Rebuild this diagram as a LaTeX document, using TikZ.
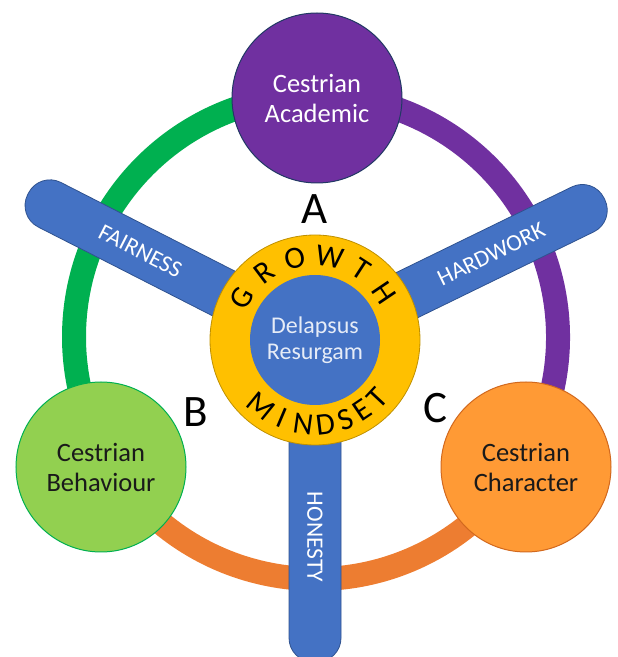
\documentclass[tikz,border=0pt]{standalone}
\usepackage{fontspec}
\setmainfont{Carlito}
\definecolor{ringgreen}{HTML}{00B050}
\definecolor{ringpurple}{HTML}{7030A0}
\definecolor{ringorange}{HTML}{ED7D31}
\definecolor{spokeblue}{HTML}{4472C4}
\definecolor{spokeedge}{HTML}{2F528F}
\definecolor{gold}{HTML}{FFC000}
\definecolor{goldedge}{HTML}{BF9000}
\definecolor{lightgreen}{HTML}{92D050}
\definecolor{lightorange}{HTML}{FF9A35}
\definecolor{orangeedge}{HTML}{D2691E}
\definecolor{paletext}{HTML}{E6ECF7}
\definecolor{darktext}{HTML}{1A1A1A}
\begin{document}
\begin{tikzpicture}[x=1pt,y=1pt,
  ringarc/.style={line width=24pt},
  spokebox/.style={fill=spokeblue, draw=spokeedge, line width=0.8pt, rounded corners=24pt},
  spokelabel/.style={text=white, font=\fontsize{23.5}{23.5}\selectfont, inner sep=0pt},
  valuecircle/.style={circle, minimum size=170pt, inner sep=0pt, line width=1pt, align=center, font=\fontsize{26.5}{30}\selectfont},
  letterlabel/.style={font=\fontsize{45}{45}\selectfont, inner sep=0pt},
  ringletter/.style={font=\fontsize{31}{31}\selectfont, inner sep=0pt}
]
\useasboundingbox (0,0) rectangle (618,657);
\coordinate (R) at (316,320);
\coordinate (O) at (315,317);
% outer ring
\draw[ringarc, ringgreen] (R) ++(90:242) arc[start angle=90, end angle=210, radius=242];
\draw[ringarc, ringpurple] (R) ++(-30:242) arc[start angle=-30, end angle=90, radius=242];
\draw[ringarc, ringorange] (R) ++(210:242) arc[start angle=210, end angle=330, radius=242];
% spokes
\begin{scope}[shift={(O)}, rotate=153]
  \draw[spokebox] (0,-25) -- (322,-25) -- (322,25) -- (0,25) -- cycle;
  \node[spokelabel, rotate=-27] (fairness) at (196,0) {FAIRNESS};
\end{scope}
\begin{scope}[shift={(O)}, rotate=26]
  \draw[spokebox] (0,-25) -- (322,-25) -- (322,25) -- (0,25) -- cycle;
  \node[spokelabel, rotate=26] (hardwork) at (196,0) {HARDWORK};
\end{scope}
\begin{scope}[shift={(O)}, rotate=-90]
  \draw[spokebox] (0,-26) -- (322,-26) -- (322,26) -- (0,26) -- cycle;
  \node[spokelabel, rotate=-90] (honesty) at (197,0) {HONESTY};
\end{scope}
% value circles
\node[valuecircle, fill=ringpurple, draw=spokeedge!70!black, text=white] (academic) at (317,559) {Cestrian\\Academic};
\node[valuecircle, fill=lightgreen, draw=ringgreen, text=darktext] (behaviour) at (101,190) {Cestrian\\Behaviour};
\node[valuecircle, fill=lightorange, draw=orangeedge, text=darktext] (character) at (526,190) {Cestrian\\Character};
% hub
\node[circle, fill=gold, draw=goldedge, line width=0.8pt, minimum size=210pt, inner sep=0pt] (mindset) at (O) {};
\node[circle, fill=spokeblue, minimum size=130pt, inner sep=0pt, text=paletext, align=center, font=\fontsize{24}{26}\selectfont] (motto) at (O) {Delapsus\\Resurgam};
\foreach \ch/\ang [count=\i] in {G/150,R/127,O/104,W/80,T/57,H/34}
  \node[ringletter, rotate=\ang-90] (growth\i) at ([shift={(\ang:84)}]O) {\ch};
\foreach \ch/\ang [count=\i] in {M/231,I/247,N/262,D/277,S/291,E/304,T/317}
  \node[ringletter, rotate=\ang+90] (mind\i) at ([shift={(\ang:85)}]O) {\ch};
% section letters
\node[letterlabel] (labelA) at (315,448) {A};
\node[letterlabel] (labelB) at (196,245) {B};
\node[letterlabel] (labelC) at (435,249) {C};
\end{tikzpicture}
\end{document}
